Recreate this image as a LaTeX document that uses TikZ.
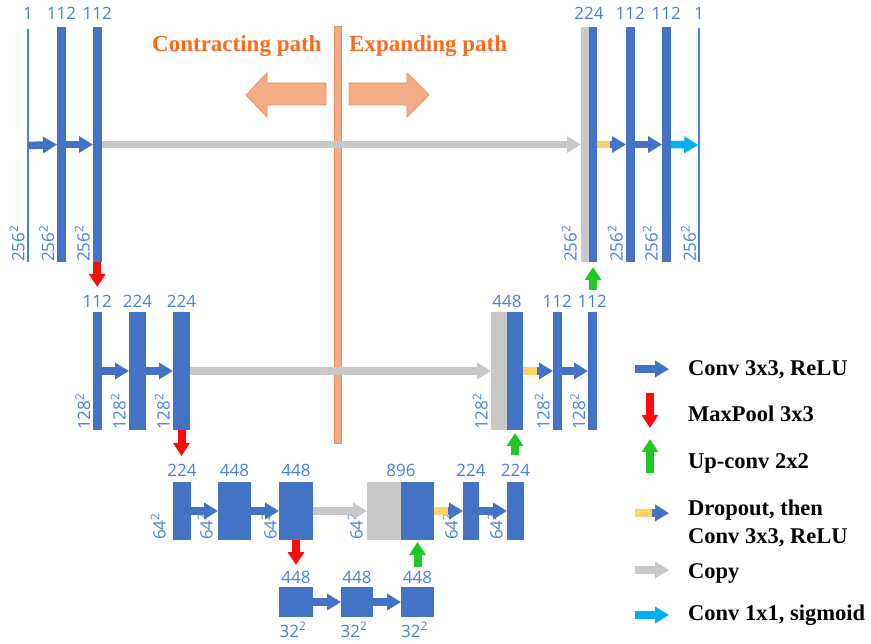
\documentclass[tikz,border=0pt]{standalone}
\usepackage{fontspec}
\setmainfont{Liberation Serif}
\newfontfamily\numfont{Open Sans}
\usetikzlibrary{arrows.meta,calc}
\definecolor{ublue}{RGB}{68,114,196}
\definecolor{ulabel}{RGB}{72,128,222}
\definecolor{ugray}{RGB}{200,200,200}
\definecolor{uyellow}{RGB}{255,208,100}
\definecolor{ured}{RGB}{255,10,10}
\definecolor{ugreen}{RGB}{34,200,34}
\definecolor{ucyan}{RGB}{0,176,240}
\definecolor{uorange}{RGB}{255,105,25}
\definecolor{ufill}{RGB}{244,172,135}
\definecolor{uedge}{RGB}{240,140,100}
\begin{document}
\begin{tikzpicture}[x=1pt,y=-1pt,
  blk/.style={draw=none,inner sep=0,outer sep=0,anchor=north west},
  bar/.style={blk,fill=ublue},
  cpb/.style={blk,fill=ugray},
  thinbar/.style={blk,fill=ulabel,minimum width=1.5},
  hA/.style={minimum height=235},
  hB/.style={minimum height=118},
  hC/.style={minimum height=58},
  hD/.style={minimum height=30},
  num/.style={text=ulabel,font=\numfont\fontsize{17}{17}\selectfont,inner sep=0,anchor=base},
  dim/.style={num,rotate=90,anchor=south west},
  flow/.style={line width=7.5pt,-{Triangle[width=16pt,length=14pt]}},
  conv/.style={flow,draw=ublue},
  cpy/.style={flow,draw=ugray},
  sig/.style={flow,draw=ucyan},
  drop/.style={draw=uyellow,line width=7.5pt},
  pool/.style={line width=8pt,draw=ured,-{Triangle[width=16pt,length=13pt]}},
  up/.style={line width=8pt,draw=ugreen,-{Triangle[width=16pt,length=13pt]}},
  leg/.style={font=\bfseries\fontsize{22.5}{27}\selectfont,text=black,inner sep=0,anchor=base west},
  ttl/.style={font=\bfseries\fontsize{23}{27}\selectfont,text=uorange,inner sep=0,anchor=base west},
  big/.style={fill=ufill,draw=uedge,line width=0.8pt}
]
\useasboundingbox (0,0) rectangle (871,644);

% centre divider and path arrows
\draw[big] (334,26) rectangle (341,443);
\draw[big] (326,83) -- (267,83) -- (267,73) -- (246,95) -- (267,117) -- (267,105) -- (326,105) -- cycle;
\draw[big] (349,83) -- (407,83) -- (407,73) -- (429,95) -- (407,117) -- (407,105) -- (349,105) -- cycle;
\node[ttl] (tc) at (152,52) {Contracting path};
\node[ttl] (te) at (349,52) {Expanding path};

% ---- level 1
\node[thinbar,minimum height=233] (L1a) at (27.3,29) {};
\node[bar,hA,minimum width=9] (L1b) at (57,27) {};
\node[bar,hA,minimum width=8.5] (L1c) at (93,27) {};
\node[cpb,hA,minimum width=8] (R1g) at (581,27) {};
\node[bar,hA,minimum width=8] (R1) at (589,27) {};
\node[bar,hA,minimum width=8.5] (R1b) at (626,27) {};
\node[bar,hA,minimum width=8.5] (R1c) at (662,27) {};
\node[thinbar,minimum height=234] (R1d) at (698.3,28) {};

% ---- level 2
\node[bar,hB,minimum width=8.5] (L2a) at (93,312) {};
\node[bar,hB,minimum width=17] (L2b) at (129,312) {};
\node[bar,hB,minimum width=17] (L2c) at (173,312) {};
\node[cpb,hB,minimum width=16] (R2g) at (491,312) {};
\node[bar,hB,minimum width=16] (R2) at (507,312) {};
\node[bar,hB,minimum width=8.5] (R2b) at (553,312) {};
\node[bar,hB,minimum width=8.5] (R2c) at (588,312) {};

% ---- level 3
\node[bar,hC,minimum width=18] (L3a) at (173,482) {};
\node[bar,hC,minimum width=33] (L3b) at (218,482) {};
\node[bar,hC,minimum width=34] (L3c) at (279,482) {};
\node[cpb,hC,minimum width=34] (R3g) at (367,482) {};
\node[bar,hC,minimum width=33] (R3) at (401,482) {};
\node[bar,hC,minimum width=16] (R3b) at (463,482) {};
\node[bar,hC,minimum width=17] (R3c) at (507,482) {};

% ---- level 4
\node[bar,hD,minimum width=34] (B1) at (279,587) {};
\node[bar,hD,minimum width=32] (B2) at (341,587) {};
\node[bar,hD,minimum width=33] (B3) at (401,587) {};

% ---- top labels
\node[num] at ([yshift=9pt]L1a.north) {1};
\node[num] at ([yshift=7pt]L1b.north) {112};
\node[num] at ([yshift=7pt]L1c.north) {112};
\node[num] at ([yshift=7pt]R1g.north east) {224};
\node[num] at ([yshift=7pt]R1b.north) {112};
\node[num] at ([yshift=7pt]R1c.north) {112};
\node[num] at ([yshift=8pt]R1d.north) {1};
\node[num] at ([yshift=4pt]L2a.north) {112};
\node[num] at ([yshift=4pt]L2b.north) {224};
\node[num] at ([yshift=4pt]L2c.north) {224};
\node[num] at ([yshift=4pt]R2g.north east) {448};
\node[num] at ([yshift=4pt]R2b.north) {112};
\node[num] at ([yshift=4pt]R2c.north) {112};
\node[num] at ([yshift=5pt]L3a.north) {224};
\node[num] at ([yshift=5pt]L3b.north) {448};
\node[num] at ([yshift=5pt]L3c.north) {448};
\node[num] at ([yshift=5pt]R3g.north east) {896};
\node[num] at ([yshift=5pt]R3b.north) {224};
\node[num] at ([yshift=5pt]R3c.north) {224};
\node[num] at ([yshift=4pt]B1.north) {448};
\node[num] at ([yshift=4pt]B2.north) {448};
\node[num] at ([yshift=4pt]B3.north) {448};
\node[num] at ([yshift=-20pt,xshift=-3pt]B1.south) {32\textsuperscript{2}};
\node[num] at ([yshift=-20pt,xshift=-3pt]B2.south) {32\textsuperscript{2}};
\node[num] at ([yshift=-20pt,xshift=-3pt]B3.south) {32\textsuperscript{2}};

% ---- rotated size labels
\node[dim] at ([xshift=-2.5pt]L1a.south west) {256\textsuperscript{2}};
\node[dim] at ([xshift=-2.5pt]L1b.south west) {256\textsuperscript{2}};
\node[dim] at ([xshift=-3pt]L1c.south west) {256\textsuperscript{2}};
\node[dim] at ([xshift=-4pt]R1g.south west) {256\textsuperscript{2}};
\node[dim] at ([xshift=-3pt]R1b.south west) {256\textsuperscript{2}};
\node[dim] at ([xshift=-4pt]R1c.south west) {256\textsuperscript{2}};
\node[dim] at ([xshift=-2pt]R1d.south west) {256\textsuperscript{2}};
\node[dim] at ([xshift=-2.5pt]L2a.south west) {128\textsuperscript{2}};
\node[dim] at ([xshift=-3pt]L2b.south west) {128\textsuperscript{2}};
\node[dim] at ([xshift=-3pt]L2c.south west) {128\textsuperscript{2}};
\node[dim] at ([xshift=-3pt]R2g.south west) {128\textsuperscript{2}};
\node[dim] at ([xshift=-3pt]R2b.south west) {128\textsuperscript{2}};
\node[dim] at ([xshift=-2.5pt]R2c.south west) {128\textsuperscript{2}};
\node[dim] at ([xshift=-7pt]L3a.south west) {64\textsuperscript{2}};
\node[dim] at ([xshift=-5pt]L3b.south west) {64\textsuperscript{2}};
\node[dim] at ([xshift=-2pt]L3c.south west) {64\textsuperscript{2}};
\node[dim] at ([xshift=-4pt]R3g.south west) {64\textsuperscript{2}};
\node[dim] at ([xshift=-5pt]R3b.south west) {64\textsuperscript{2}};
\node[dim] at ([xshift=-4pt]R3c.south west) {64\textsuperscript{2}};

% ---- horizontal connectors
\draw[conv] (L1a.east) -- (L1b.west);
\draw[conv] (L1b.east) -- (L1c.west);
\draw[cpy] (L1c.east) -- (R1g.west);
\draw[drop] (R1.east) -- ++(14,0) coordinate (d1);
\draw[conv] ($(d1)+(-1,0)$) -- (R1b.west);
\draw[conv] (R1b.east) -- (R1c.west);
\draw[sig] (R1c.east) -- (R1d.west);

\draw[conv] (L2a.east) -- (L2b.west);
\draw[conv] (L2b.east) -- (L2c.west);
\draw[cpy] (L2c.east) -- (R2g.west);
\draw[drop] (R2.east) -- ++(15,0) coordinate (d2);
\draw[conv] ($(d2)+(-1,0)$) -- (R2b.west);
\draw[conv] (R2b.east) -- (R2c.west);

\draw[conv] (L3a.east) -- (L3b.west);
\draw[conv] (L3b.east) -- (L3c.west);
\draw[cpy] (L3c.east) -- (R3g.west);
\draw[drop] (R3.east) -- ++(15,0) coordinate (d3);
\draw[conv] ($(d3)+(-1,0)$) -- (R3b.west);
\draw[conv] (R3b.east) -- (R3c.west);

\draw[conv] (B1.east) -- (B2.west);
\draw[conv] (B2.east) -- (B3.west);

% ---- vertical connectors
\draw[pool] (L1c.south) -- ++(0,25);
\draw[pool] (L2c.south) -- ++(0,26);
\draw[pool] (L3c.south) -- ++(0,25);
\draw[up] ($(R3.south)+(0,27)$) -- ($(R3.south)+(0,2)$);
\draw[up] ($(R2.south)+(0,25)$) -- ($(R2.south)+(0,3)$);
\draw[up] ($(R1.south)+(0,28)$) -- ($(R1.south)+(0,5)$);

% ---- legend
\coordinate (k1a) at (635,369); \coordinate (k1b) at (669,369);
\coordinate (k2a) at (650,393); \coordinate (k2b) at (650,428);
\coordinate (k3a) at (650,473); \coordinate (k3b) at (650,439);
\coordinate (k4a) at (635,513); \coordinate (k4m) at (652,513); \coordinate (k4b) at (669,513);
\coordinate (k5a) at (635,570); \coordinate (k5b) at (669,570);
\coordinate (k6a) at (635,615); \coordinate (k6b) at (669,615);
\draw[conv] (k1a) -- (k1b);
\draw[pool] (k2a) -- (k2b);
\draw[up] (k3a) -- (k3b);
\draw[drop] (k4a) -- (k4m);
\draw[conv] (k4m) -- (k4b);
\draw[cpy] (k5a) -- (k5b);
\draw[sig] (k6a) -- (k6b);
\node[leg] (g1) at (688,376) {Conv 3x3, ReLU};
\node[leg] (g2) at (688,422) {MaxPool 3x3};
\node[leg] (g3) at (688,468) {Up-conv 2x2};
\node[leg] (g4) at (688,515) {Dropout, then};
\node[leg] (g5) at (688,543) {Conv 3x3, ReLU};
\node[leg] (g6) at (688,578) {Copy};
\node[leg] (g7) at (688,620) {Conv 1x1, sigmoid};
\end{tikzpicture}
\end{document}
